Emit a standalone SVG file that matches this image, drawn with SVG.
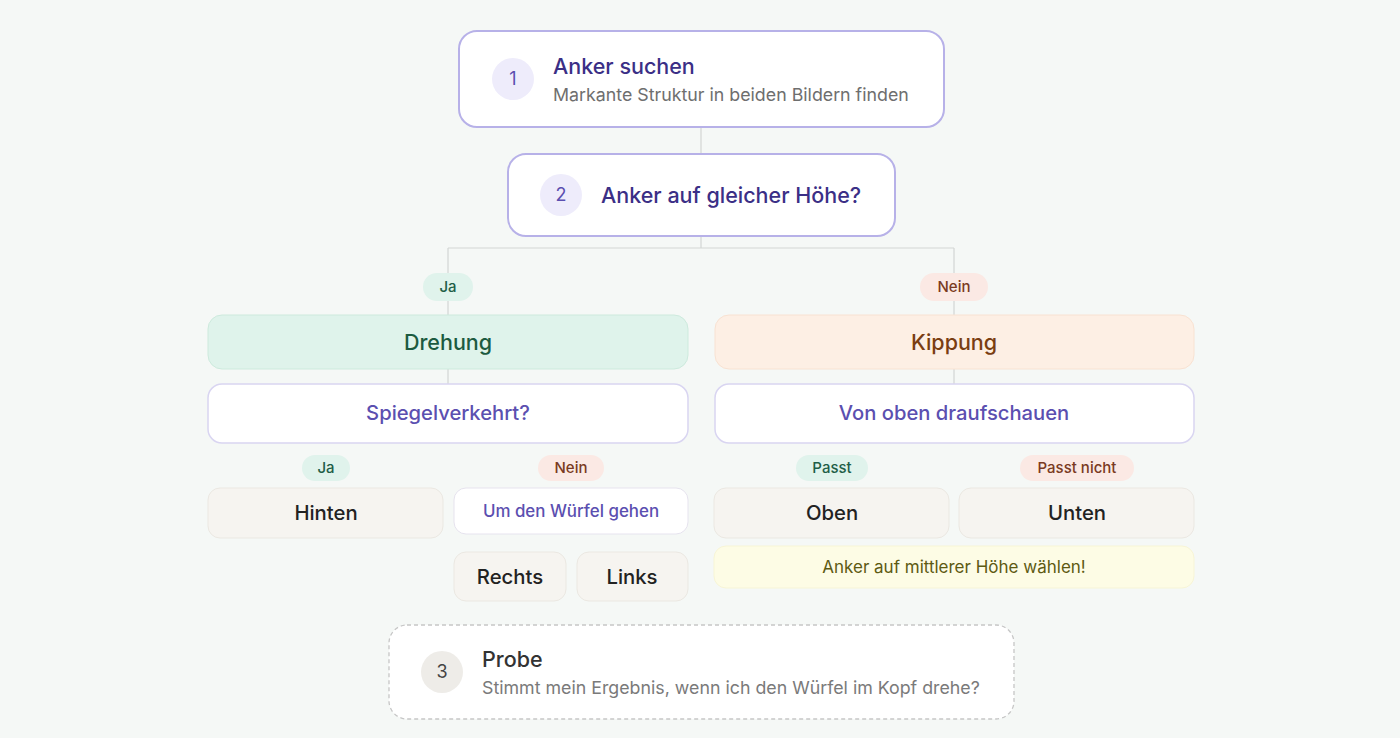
<svg xmlns="http://www.w3.org/2000/svg" width="1400" height="738" viewBox="0 0 1400 738">
<style>
text{font-family:Inter,"Noto Sans","Liberation Sans",sans-serif}
.step{fill:#fff;stroke:#b7b1e8;stroke-width:2}
.num{fill:#eeecfb}
.numt{fill:#5b4fb0;font-size:18px;text-anchor:middle}
.title{fill:#3b2f86;font-size:21.5px;font-weight:500}
.sub{fill:#6e6e6e;font-size:17.8px}
.conn{stroke:#d3d6d4;stroke-width:1.2;fill:none}
.pill{font-size:15px;text-anchor:middle;font-weight:500}
.yes{fill:#e0f3ec}.yest{fill:#1f5e47}
.no{fill:#fbe9e4}.not{fill:#7a3a22}
.q{fill:#fff;stroke:#d9d5f1;stroke-width:1.5}
.qt{fill:#5b4fb0;font-size:20.2px;text-anchor:middle;font-weight:500}
.leaf{fill:#f6f4f0;stroke:#ebe8e2;stroke-width:1}
.leaft{fill:#222;font-size:20.3px;text-anchor:middle;font-weight:500}
</style>
<rect width="1400" height="738" fill="#f5f8f6"/>
<g id="connectors">
<path class="conn" d="M701 127V154"/>
<path class="conn" d="M701 236V248M448 248H954M448 248V315M954 248V315"/>
<path class="conn" d="M448 369V384M954 369V384"/>
</g>
<g id="step1">
<rect class="step" x="459" y="31" width="485" height="96" rx="18"/>
<circle class="num" cx="513" cy="79" r="21"/>
<text class="numt" x="513" y="85">1</text>
<text class="title" x="553" y="74">Anker suchen</text>
<text class="sub" x="553" y="101">Markante Struktur in beiden Bildern finden</text>
</g>
<g id="step2">
<rect class="step" x="508" y="154" width="387" height="82" rx="18"/>
<circle class="num" cx="561" cy="195" r="21"/>
<text class="numt" x="561" y="201">2</text>
<text class="title" x="601" y="203">Anker auf gleicher Höhe?</text>
</g>
<g id="label-ja">
<rect class="yes" x="423" y="273" width="50" height="28" rx="14"/>
<text class="pill yest" x="448" y="292">Ja</text>
</g>
<g id="label-nein">
<rect class="no" x="920" y="273" width="68" height="28" rx="14"/>
<text class="pill not" x="954" y="292">Nein</text>
</g>
<g id="drehung">
<rect x="208" y="315" width="480" height="54" rx="14" fill="#dff3eb" stroke="#cdeadd" stroke-width="1"/>
<text x="448" y="350" text-anchor="middle" font-size="21.5" font-weight="500" fill="#1c5a40">Drehung</text>
</g>
<g id="kippung">
<rect x="715" y="315" width="479" height="54" rx="14" fill="#fdefe4" stroke="#f8e2d2" stroke-width="1"/>
<text x="954" y="350" text-anchor="middle" font-size="21.5" font-weight="500" fill="#7a3e12">Kippung</text>
</g>
<g id="spiegelverkehrt">
<rect class="q" x="208" y="384" width="480" height="59" rx="14"/>
<text class="qt" x="448" y="420">Spiegelverkehrt?</text>
</g>
<g id="von-oben">
<rect class="q" x="715" y="384" width="479" height="59" rx="14"/>
<text class="qt" x="954" y="420">Von oben draufschauen</text>
</g>
<g id="label-ja2">
<rect class="yes" x="302" y="455" width="48" height="26" rx="13"/>
<text class="pill yest" x="326" y="473">Ja</text>
</g>
<g id="label-nein2">
<rect class="no" x="538" y="455" width="66" height="26" rx="13"/>
<text class="pill not" x="571" y="473">Nein</text>
</g>
<g id="label-passt">
<rect class="yes" x="796" y="455" width="72" height="26" rx="13"/>
<text class="pill yest" x="832" y="473">Passt</text>
</g>
<g id="label-passt-nicht">
<rect class="no" x="1020" y="455" width="114" height="26" rx="13"/>
<text class="pill not" x="1077" y="473">Passt nicht</text>
</g>
<g id="hinten">
<rect class="leaf" x="208" y="488" width="235" height="50" rx="12"/>
<text class="leaft" x="326" y="520">Hinten</text>
</g>
<g id="um-den-wuerfel">
<rect x="454" y="488" width="234" height="46" rx="12" fill="#fff" stroke="#e6e3ee" stroke-width="1"/>
<text x="571" y="517" text-anchor="middle" font-size="16.9" font-weight="500" fill="#5b4fb0">Um den Würfel gehen</text>
</g>
<g id="rechts">
<rect class="leaf" x="454" y="552" width="112" height="49" rx="12"/>
<text class="leaft" x="510" y="584">Rechts</text>
</g>
<g id="links">
<rect class="leaf" x="577" y="552" width="111" height="49" rx="12"/>
<text class="leaft" x="632" y="584">Links</text>
</g>
<g id="oben">
<rect class="leaf" x="714" y="488" width="235" height="50" rx="12"/>
<text class="leaft" x="832" y="520">Oben</text>
</g>
<g id="unten">
<rect class="leaf" x="959" y="488" width="235" height="50" rx="12"/>
<text class="leaft" x="1077" y="520">Unten</text>
</g>
<g id="hinweis">
<rect x="714" y="546" width="480" height="42" rx="12" fill="#fdfce5" stroke="#f7f5d6" stroke-width="1"/>
<text x="954" y="573" text-anchor="middle" font-size="17" fill="#5d5a12">Anker auf mittlerer Höhe wählen!</text>
</g>
<g id="step3">
<rect x="389" y="625" width="625" height="94" rx="18" fill="#fff" stroke="#c6c6c6" stroke-width="1.3" stroke-dasharray="4 3"/>
<circle cx="442" cy="672" r="21" fill="#eeece8"/>
<text x="442" y="678" text-anchor="middle" font-size="18" fill="#444">3</text>
<text x="482" y="667" font-size="21.5" font-weight="500" fill="#333">Probe</text>
<text class="sub" x="482" y="694" style="fill:#7a7a7a">Stimmt mein Ergebnis, wenn ich den Würfel im Kopf drehe?</text>
</g>
</svg>
